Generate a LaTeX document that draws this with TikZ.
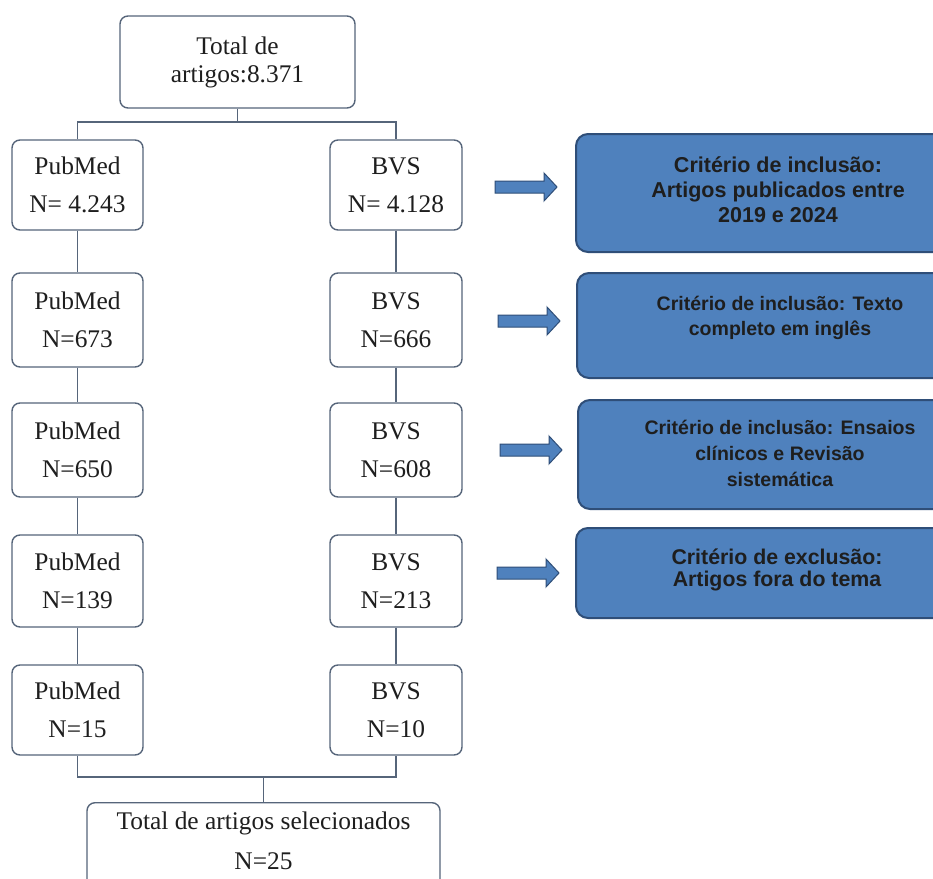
\documentclass[tikz,border=0pt]{standalone}
\usepackage{fontspec}
\setmainfont{Liberation Serif}
\setsansfont{Liberation Sans}
\definecolor{edgegray}{HTML}{56657A}
\definecolor{boxblue}{HTML}{4F81BD}
\definecolor{boxedge}{HTML}{2F4E78}
\definecolor{txt}{HTML}{1E1E1E}
\begin{document}
\begin{tikzpicture}[x=1bp,y=-1bp,
  greybox/.style={draw=edgegray, line width=1.4bp, rounded corners=8bp, fill=white,
    text=txt, align=center, inner sep=0pt, font=\fontsize{25.5}{38}\selectfont},
  lbox/.style={greybox, minimum width=131bp},
  rbox/.style={greybox, minimum width=132bp},
  conn/.style={draw=edgegray, line width=1.4bp},
  bluebox/.style={draw=boxedge, fill=boxblue, line width=2bp, rounded corners=12bp,
    minimum width=404bp, inner sep=0pt},
  btext/.style={text=txt, align=center, inner sep=0pt},
  blockarr/.pic={\draw[boxedge, fill=boxblue, line width=1bp]
     (0,-6) -- (49,-6) -- (49,-14) -- (62,0) -- (49,14) -- (49,6) -- (0,6) -- cycle;}
]
\useasboundingbox (0,0) rectangle (933,879);
\clip (0,0) rectangle (933,879);
\fill[white] (0,0) rectangle (933,879);

% top box
\node[greybox, minimum width=235bp, minimum height=92bp,
      font=\fontsize{25.5}{28}\selectfont] (top) at (237.5,62) {Total de\\artigos:8.371};

% left column
\node[lbox, minimum height=90bp] (p1) at (77.5,185) {PubMed\\N= 4.243};
\node[lbox, minimum height=94bp] (p2) at (77.5,320) {PubMed\\N=673};
\node[lbox, minimum height=94bp] (p3) at (77.5,450) {PubMed\\N=650};
\node[lbox, minimum height=92bp] (p4) at (77.5,581) {PubMed\\N=139};
\node[lbox, minimum height=90bp] (p5) at (77.5,710) {PubMed\\N=15};

% right column
\node[rbox, minimum height=90bp] (b1) at (396,185) {BVS\\N= 4.128};
\node[rbox, minimum height=94bp] (b2) at (396,320) {BVS\\N=666};
\node[rbox, minimum height=94bp] (b3) at (396,450) {BVS\\N=608};
\node[rbox, minimum height=92bp] (b4) at (396,581) {BVS\\N=213};
\node[rbox, minimum height=90bp] (b5) at (396,710) {BVS\\N=10};

% bottom box
\node[greybox, minimum width=353bp, minimum height=110bp, anchor=north] (bot) at (263.5,802) {};
\node[btext, font=\fontsize{25.5}{40}\selectfont] (bottxt) at (263.5,841) {Total de artigos selecionados\\N=25};

% connectors
\coordinate (tj) at (237.5,122);
\draw[conn] (top.south) -- (tj);
\draw[conn] (p1.north) |- (tj) -| (b1.north);
\draw[conn] (p1.south) -- (p2.north);
\draw[conn] (p2.south) -- (p3.north);
\draw[conn] (p3.south) -- (p4.north);
\draw[conn] (p4.south) -- (p5.north);
\draw[conn] (b1.south) -- (b2.north);
\draw[conn] (b2.south) -- (b3.north);
\draw[conn] (b3.south) -- (b4.north);
\draw[conn] (b4.south) -- (b5.north);
\coordinate (bl) at (0,777);
\coordinate (bj) at (bot.north |- bl);
\draw[conn] (p5.south) |- (bj) -| (b5.south);
\draw[conn] (bj) -- (bot.north);

% block arrows
\pic (a1) at (495,187) {blockarr};
\pic (a2) at (498,321) {blockarr};
\pic (a3) at (500,450) {blockarr};
\pic (a4) at (497,573) {blockarr};

% criteria boxes
\node[bluebox, minimum height=118bp] (c1) at (778,193) {};
\node[bluebox, minimum height=105bp] (c2) at (779,325.5) {};
\node[bluebox, minimum height=109bp] (c3) at (780,454.5) {};
\node[bluebox, minimum height=90bp] (c4) at (778,573) {};

\node[btext, font=\sffamily\bfseries\fontsize{21.6}{25}\selectfont] (t1) at (778,190)
  {Critério de inclusão:\\Artigos publicados entre\\2019 e 2024};
\node[btext, font=\sffamily\bfseries\fontsize{19.6}{25}\selectfont] (t2) at (780,317.5)
  {Critério de inclusão: Texto\\completo em inglês};
\node[btext, font=\sffamily\bfseries\fontsize{19.6}{26}\selectfont] (t3) at (780,453.5)
  {Critério de inclusão: Ensaios\\clínicos e Revisão\\sistemática};
\node[btext, font=\sffamily\bfseries\fontsize{21.4}{22.5}\selectfont] (t4) at (777,570)
  {Critério de exclusão:\\Artigos fora do tema};
\end{tikzpicture}
\end{document}
